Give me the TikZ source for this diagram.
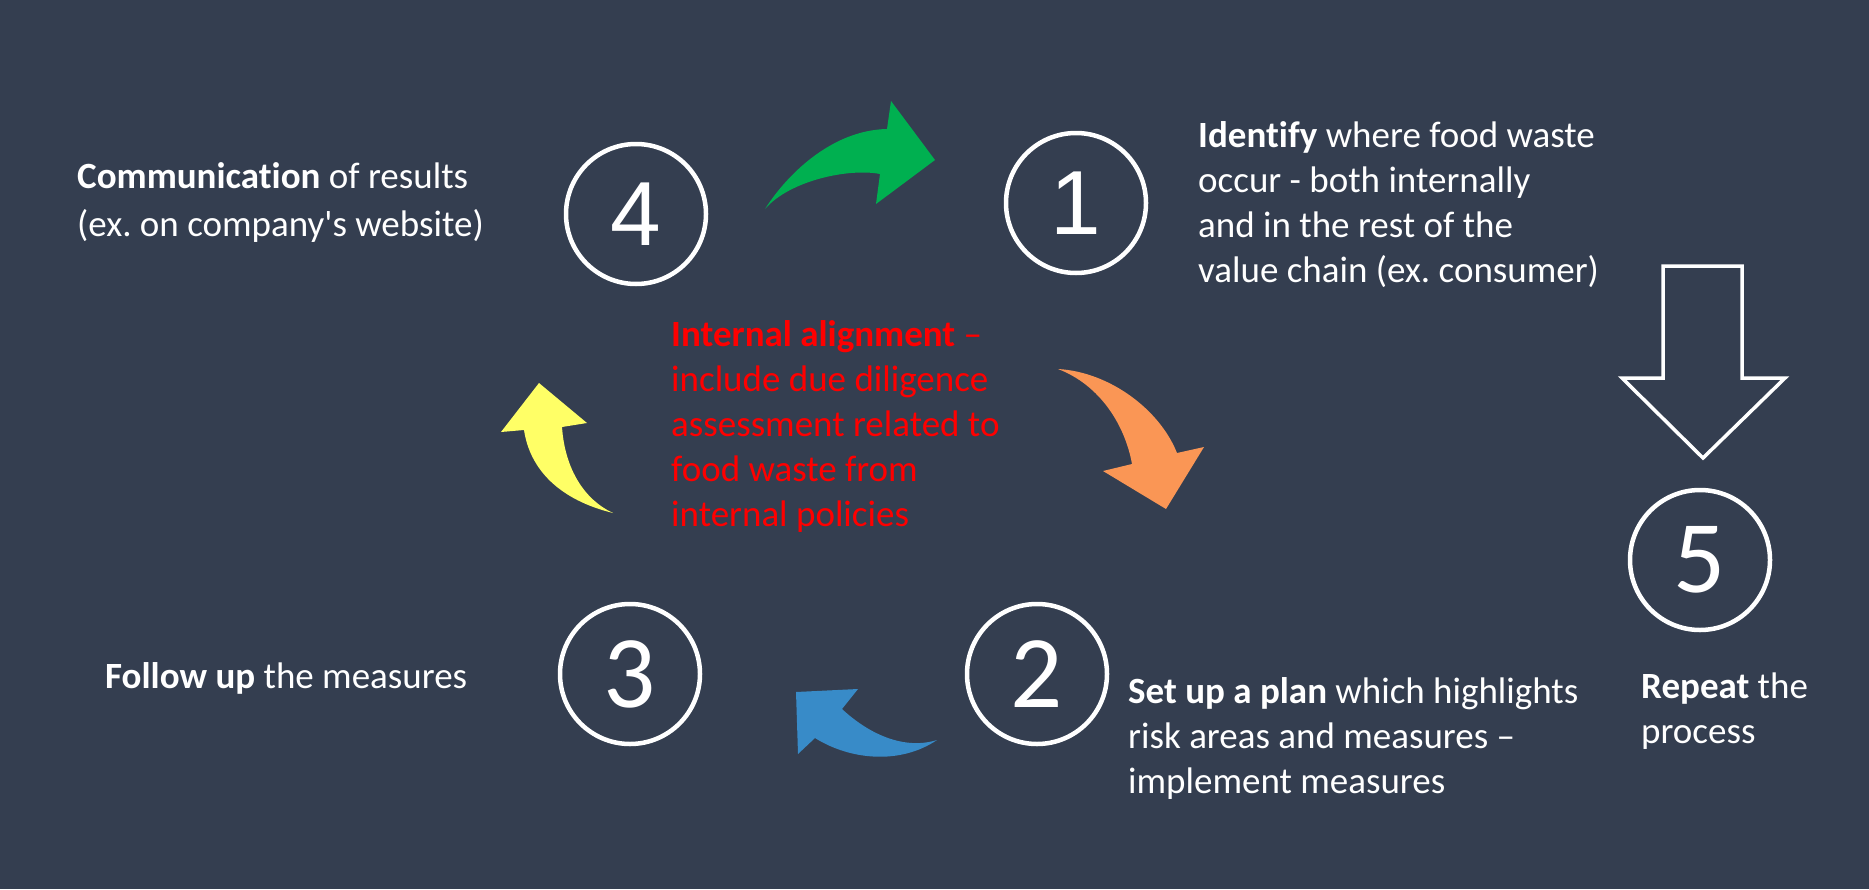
\documentclass[tikz,border=0pt]{standalone}
\usepackage{fontspec}
\setmainfont{Carlito}[Ligatures=NoCommon]
\newfontfamily\arialfont{Liberation Sans}
\frenchspacing
\definecolor{slate}{RGB}{52,62,80}
\definecolor{leafgreen}{RGB}{0,176,80}
\definecolor{peach}{RGB}{250,150,85}
\definecolor{lemon}{RGB}{255,255,102}
\definecolor{seablue}{RGB}{56,139,200}
\tikzstyle{number}=[circle,draw=white,line width=4.5pt,minimum size=140pt,inner sep=0pt,text=white]
\tikzstyle{note}=[text=white,align=left,anchor=base west,inner sep=0pt,font=\fontsize{37}{45}\selectfont]

\begin{document}
\begin{tikzpicture}[x=1pt,y=-1pt]
		\useasboundingbox (0,0) rectangle (1869,889);
		\fill[slate] (0,0) rectangle (1869,889);
		
		\node[number,font=\arialfont\fontsize{91}{91}\selectfont] (c4) at (636, 214) {4};
		\node[number,font=\arialfont\fontsize{91}{91}\selectfont] (c1) at (1076, 203) {1};
		\node[number,font=\fontsize{103}{103}\selectfont] (c2) at (1037, 674) {2};
		\node[number,font=\fontsize{103}{103}\selectfont] (c3) at (630, 674) {3};
		\node[number,font=\fontsize{103}{103}\selectfont] (c5) at (1700, 560) {5};
		
		% texts are placed by the baseline of their last line
		\node[note,font=\fontsize{37}{48}\selectfont] (t4) at (77, 236) {\textbf{Communication} of results\\(ex. on company\textquotesingle s website)};
		\node[note] (t1) at (1198, 282) {\textbf{Identify} where food waste\\occur - both internally\\and in the rest of the\\value chain (ex. consumer)};
		\node[note,text=red] (tc) at (671, 526) {\textbf{Internal alignment} \textendash\\include due diligence\\assessment related to\\food waste from\\internal policies};
		\node[note] (t3) at (105, 688) {\textbf{Follow up} the measures};
		\node[note] (t2) at (1128, 793) {\textbf{Set up a plan} which highlights\\risk areas and measures \textendash\\implement measures};
		\node[note] (t5) at (1641, 743) {\textbf{Repeat} the\\process};
		
		% curved arrows round the cycle
		\fill[leafgreen] (765,209) .. controls (790,170) and (835,130) .. (887,129) -- (891,101) -- (935,160) -- (876,204) -- (880,174) .. controls (850,168) and (790,180) .. (765,209);
		\fill[peach] (1058,369) .. controls (1110,372) and (1160,410) .. (1177,453) -- (1204,447) -- (1166,509) -- (1103,471) -- (1132,464) .. controls (1125,425) and (1100,385) .. (1058,369);
		\fill[seablue] (937,740) .. controls (900,765) and (850,760) .. (815,738) -- (798,754) -- (796,692) -- (858,689) -- (842,709) .. controls (870,735) and (905,750) .. (937,740);
		\fill[lemon] (613,513) .. controls (560,500) and (530,470) .. (524,430) -- (501,432) -- (539,383) -- (587,423) -- (562,427) .. controls (565,470) and (585,500) .. (613,513);
		
		% repeat arrow
		\draw[white,line width=3.5pt,line join=miter] (1663,266) -- (1742,266) -- (1742,378) -- (1785,378) -- (1703,458) -- (1622,378) -- (1663,378) -- cycle;
\end{tikzpicture}
\end{document}
